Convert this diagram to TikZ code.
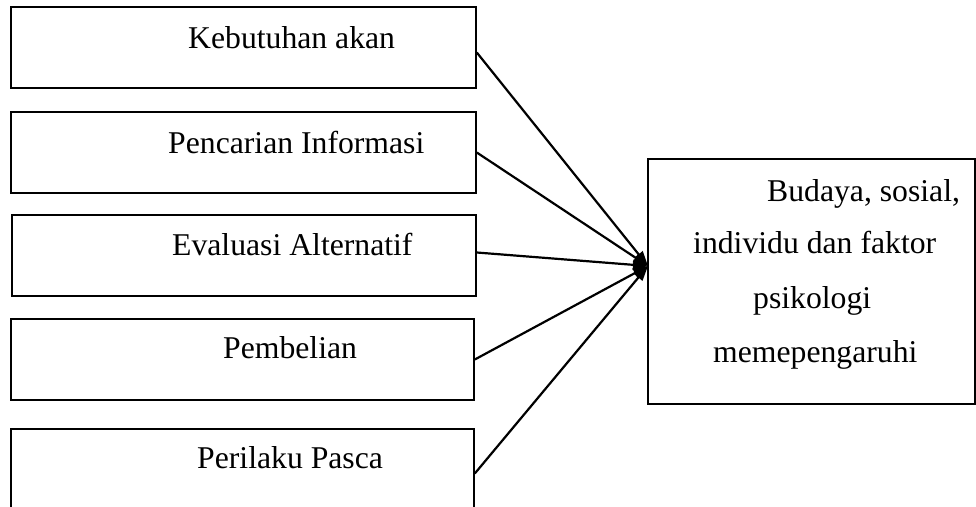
\documentclass[tikz,border=0pt]{standalone}
\usepackage{fontspec}
\setmainfont{Liberation Serif}
\usetikzlibrary{arrows.meta}
\begin{document}
\begin{tikzpicture}[x=1pt,y=-1pt,
  box/.style={draw=black,line width=1.6pt,inner sep=0pt,minimum height=81pt},
  txt/.style={inner sep=0pt,anchor=base west,font=\fontsize{31.7}{38}\selectfont},
  conn/.style={line width=2.2pt,-{Triangle[length=15pt,width=10pt]}}]
\useasboundingbox (0,0) rectangle (976,506);
\clip (0,0) rectangle (976,506);
\fill[white] (0,0) rectangle (976,506);
\node[box,minimum width=465pt] (b1) at (243.5,47.5) {};
\node[box,minimum width=465pt] (b2) at (243.5,152.5) {};
\node[box,minimum width=464pt] (b3) at (244,255.5) {};
\node[box,minimum width=463pt] (b4) at (242.5,359.5) {};
\node[box,minimum width=463pt] (b5) at (242.5,469.5) {};
\node[box,minimum width=327pt,minimum height=245pt] (r) at (811.5,281.5) {};
\node[txt] (t1) at (188,48) {Kebutuhan akan};
\node[txt] (t2) at (168,153) {Pencarian Informasi};
\node[txt] (t3) at (172,255) {Evaluasi Alternatif};
\node[txt] (t4) at (223,358) {Pembelian};
\node[txt] (t5) at (197,468) {Perilaku Pasca};
\node[txt] (r1) at (767,201) {Budaya, sosial,};
\node[txt] (r2) at (693,253) {individu dan faktor};
\node[txt] (r3) at (753,308) {psikologi};
\node[txt] (r4) at (713,362) {memepengaruhi};
\coordinate (tip) at (648,266);
\draw[conn] ([yshift=-5pt]b1.east) -- (tip);
\draw[conn] (b2.east) -- (tip);
\draw[conn] ([yshift=3pt]b3.east) -- (tip);
\draw[conn] (b4.east) -- (tip);
\draw[conn] ([yshift=-4pt]b5.east) -- (tip);
\end{tikzpicture}
\end{document}
